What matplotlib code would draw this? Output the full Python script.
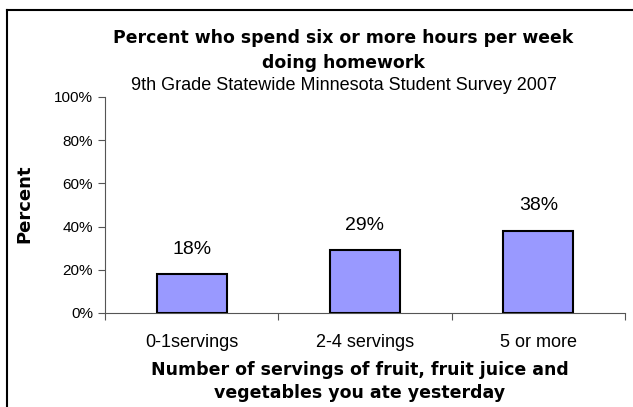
import matplotlib
matplotlib.use("Agg")
import matplotlib.pyplot as plt
from matplotlib.lines import Line2D

plt.rcParams["font.family"] = ["Liberation Sans", "DejaVu Sans"]
WIDE = ["DejaVu Sans"]  # 原图粗体字间距较宽，用较宽的字体近似

# ── 数据 ──────────────────────────────────────────────
categories = ["0-1servings", "2-4 servings", "5 or more"]
values = [0.18, 0.29, 0.38]
value_labels = ["18%", "29%", "38%"]
y_ticks = [0, 0.2, 0.4, 0.6, 0.8, 1.0]
y_tick_labels = ["0%", "20%", "40%", "60%", "80%", "100%"]

W, H = 633, 407
fig = plt.figure(figsize=(W / 100, H / 100), dpi=100)

# 外框（右、下被裁掉）
fig.add_artist(Line2D([7.5 / W, 7.5 / W], [0, 1 - 10 / H], color="black", lw=1.5))
fig.add_artist(Line2D([7.5 / W, 1], [1 - 10 / H, 1 - 10 / H], color="black", lw=1.5))

ax = fig.add_axes([105 / W, 1 - 313 / H, 520 / W, 216 / H])
pos = [i + 0.5 for i in range(len(categories))]
ax.bar(pos, values, width=0.405, color="#9999FF", edgecolor="black", linewidth=1.5, zorder=3)

for x, v, lab in zip(pos, values, value_labels):
    ax.annotate(lab, (x, v), xytext=(0, 25), textcoords="offset pixels",
                ha="center", va="center", fontsize=14)

ax.set_xlim(0, 3)
ax.set_ylim(0, 1)
ax.set_yticks(y_ticks)
ax.set_yticklabels(y_tick_labels, fontsize=11)
ax.set_xticks([0, 1, 2, 3])
ax.set_xticklabels([])
ax.set_xticks(pos, minor=True)
ax.set_xticklabels(categories, minor=True, fontsize=13)
ax.tick_params(axis="x", which="minor", length=0, pad=15)
ax.tick_params(axis="both", which="major", length=5, color="#555555", direction="out")
for s in ["top", "right"]:
    ax.spines[s].set_visible(False)
for s in ["left", "bottom"]:
    ax.spines[s].set_color("#555555")

fig.text(24 / W, 1 - 204 / H, "Percent", rotation=90, ha="center", va="center",
         fontsize=13, fontweight="bold", family=WIDE)

fig.text(343 / W, 1 - 38 / H, "Percent who spend six or more hours per week",
         ha="center", va="center", fontsize=12.4, fontweight="bold", family=WIDE)
fig.text(343 / W, 1 - 63 / H, "doing homework",
         ha="center", va="center", fontsize=12.4, fontweight="bold", family=WIDE)
fig.text(344 / W, 1 - 85 / H, "9th Grade Statewide Minnesota Student Survey 2007",
         ha="center", va="center", fontsize=13)

fig.text(360 / W, 1 - 370 / H, "Number of servings of fruit, fruit juice and",
         ha="center", va="center", fontsize=12.5, fontweight="bold", family=WIDE)
fig.text(360 / W, 1 - 393 / H, "vegetables you ate yesterday",
         ha="center", va="center", fontsize=12.5, fontweight="bold", family=WIDE)

fig.savefig("out.png", dpi=100)
